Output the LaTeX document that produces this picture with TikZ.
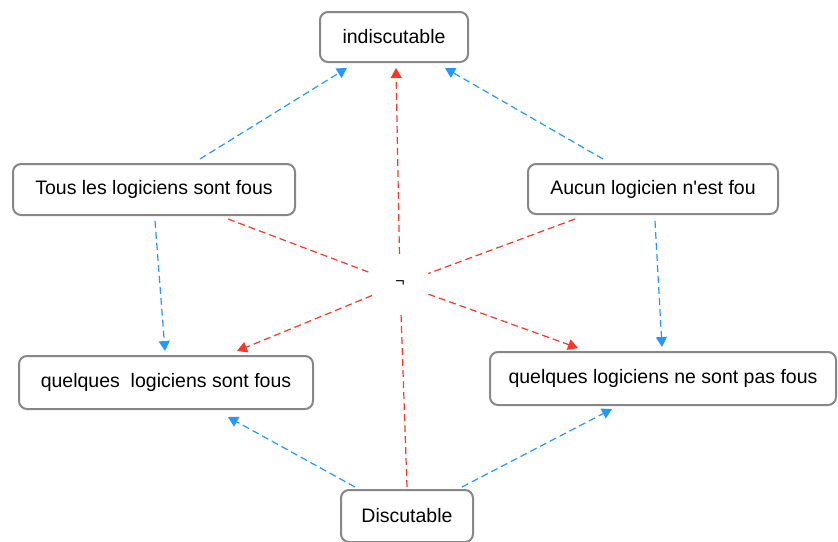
\documentclass[tikz,border=0pt]{standalone}
\usepackage{fontspec}
\setmainfont{Liberation Sans}
\newfontfamily\lsans{Liberation Sans}
\usetikzlibrary{arrows.meta}
\definecolor{boxgray}{RGB}{135,135,135}
\definecolor{lblue}{RGB}{40,150,250}
\definecolor{lred}{RGB}{250,55,40}
\tikzset{
  box/.style={draw=boxgray, line width=2pt, rounded corners=8pt, fill=white,
    minimum height=50pt, inner sep=0pt, font=\lsans\fontsize{19.5}{23}\selectfont, text=black},
  bluearr/.style={draw=lblue, line width=1.2pt, dash pattern=on 7pt off 4pt,
    -{Triangle[length=10pt,width=11pt,fill=lblue]}},
  redarr/.style={draw=lred, line width=1.2pt, dash pattern=on 7pt off 4pt,
    -{Triangle[length=10pt,width=11pt,fill=lred]}},
  redline/.style={draw=lred, line width=1.2pt, dash pattern=on 7pt off 4pt},
}
\begin{document}
\begin{tikzpicture}[x=1pt,y=-1pt]
\useasboundingbox (0,0) rectangle (838,541);
\node[box, minimum width=148pt] (ind) at (394,37) {indiscutable};
\node[box, minimum width=282pt, minimum height=51pt] (tous) at (154,189.5) {Tous les logiciens sont fous};
\node[box, minimum width=250pt] (aucun) at (653,189) {Aucun logicien n'est fou};
\node[box, minimum width=294pt, minimum height=53pt] (qs) at (166,382.5) {quelques\ \ logiciens sont fous};
\node[box, minimum width=346pt, minimum height=53pt] (qne) at (663,378.5) {quelques logiciens ne sont pas fous};
\node[box, minimum width=132pt, minimum height=52pt] (disc) at (407,516) {Discutable};
\node[circle, minimum size=60pt, inner sep=0pt, font=\lsans\fontsize{16}{18}\selectfont] (neg) at (400,284) {¬};
% blue
\draw[bluearr] ([xshift=46pt,yshift=4pt]tous.north) -- ([xshift=-47pt,yshift=-5pt]ind.south);
\draw[bluearr] ([xshift=-50pt,yshift=4pt]aucun.north) -- ([xshift=51pt,yshift=-5pt]ind.south);
\draw[bluearr] ([xshift=1pt,yshift=-5pt]tous.south) -- ([xshift=-1pt,yshift=4pt]qs.north);
\draw[bluearr] ([xshift=2pt,yshift=-6pt]aucun.south) -- ([xshift=-1pt,yshift=4pt]qne.north);
\draw[bluearr] ([xshift=-52pt,yshift=2pt]disc.north) -- ([xshift=62pt,yshift=-7pt]qs.south);
\draw[bluearr] ([xshift=55pt,yshift=2pt]disc.north) -- ([xshift=-51pt,yshift=-3pt]qne.south);
% red
\draw[redline] ([xshift=74pt,yshift=-3pt]tous.south) -- (neg);
\draw[redarr] (neg) -- ([xshift=-85pt,yshift=3pt]qne.north);
\draw[redline] ([xshift=-78pt,yshift=-4pt]aucun.south) -- (neg);
\draw[redarr] (neg) -- ([xshift=71pt,yshift=4pt]qs.north);
\draw[redline] ([yshift=2pt]disc.north) -- (neg);
\draw[redarr] (neg) -- ([xshift=2pt,yshift=-5pt]ind.south);
\end{tikzpicture}
\end{document}
